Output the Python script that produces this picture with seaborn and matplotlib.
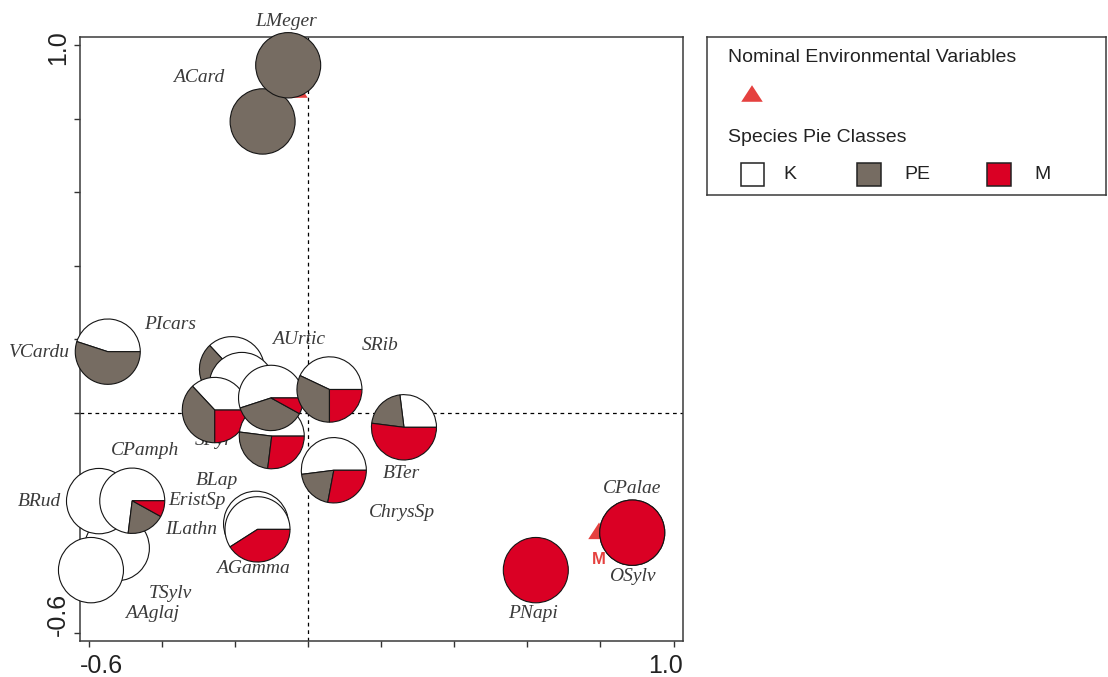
import matplotlib
matplotlib.use("Agg")
import matplotlib.pyplot as plt
from matplotlib.patches import Wedge, Rectangle
import pandas as pd
import seaborn as sns

# species scores on ordination axes 1/2 and share of each pie class (K, PE, M)
species = ["TSylv", "AAglaj", "BRud", "CPamph", "ILathn", "AGamma", "PIcars",
           "BLap", "SPyr", "EristSp", "AUrtic", "SRib", "BTer", "ChrysSp",
           "VCardu", "ACard", "LMeger", "PNapi", "CPalae", "OSylv"]
axis1 = [-0.524, -0.595, -0.573, -0.482, -0.143, -0.139, -0.209, -0.182, -0.256,
         -0.100, -0.102, 0.058, 0.262, 0.070, -0.549, -0.125, -0.055, 0.623,
         0.887, 0.887]
axis2 = [-0.369, -0.429, -0.241, -0.240, -0.303, -0.318, 0.118, 0.075, 0.007,
         -0.064, 0.040, 0.063, -0.040, -0.157, 0.166, 0.793, 0.946, -0.429,
         -0.327, -0.327]
share_k = [1, 1, 1, 0.73, 1, 0.59, 0.37, 1, 0.37, 0.48, 0.55, 0.43, 0.27, 0.52,
           0.45, 0, 0, 0, 0, 0]
share_pe = [0, 0, 0, 0.19, 0, 0, 0.38, 0, 0.38, 0.25, 0.37, 0.32, 0.21, 0.20,
            0.55, 1, 1, 0, 0, 0]
share_m = [0, 0, 0, 0.08, 0, 0.41, 0.25, 0, 0.25, 0.27, 0.08, 0.25, 0.52, 0.28,
           0, 0, 0, 1, 1, 1]

# where the species names sit
label_x = [-0.379, -0.429, -0.735, -0.446, -0.320, -0.151, -0.379, -0.251, -0.260,
           -0.306, -0.027, 0.196, 0.256, 0.256, -0.735, -0.299, -0.061, 0.616,
           0.886, 0.886]
label_y = [-0.492, -0.546, -0.241, -0.104, -0.318, -0.424, 0.241, -0.184, -0.075,
           -0.238, 0.199, 0.184, -0.167, -0.273, 0.165, 0.912, 1.066, -0.546,
           -0.206, -0.447]

# nominal environmental variables (centroids)
env_names = ["M", ""]
env_x = [0.796, -0.031]
env_y = [-0.322, 0.880]

classes = ["K", "PE", "M"]
class_colors = ["#FFFFFF", "#766C62", "#DA0024"]
tri_color = "#E5413F"
tri_marker = [(-1, -0.77), (1, -0.77), (0, 0.77)]

sns.set_style("white")
plt.rcParams["font.family"] = ["Liberation Sans", "DejaVu Sans"]

fig = plt.figure(figsize=(11.08, 6.77), dpi=100)
W, H = 1108, 677
ax = fig.add_axes([80 / W, (H - 641) / H, 603 / W, 604 / H])
ax.set_xlim(-0.625, 1.026)
ax.set_ylim(-0.622, 1.023)

ax.axhline(0, color="black", lw=0.9, ls=(0, (3, 3)), zorder=1)
ax.axvline(0, color="black", lw=0.9, ls=(0, (3, 3)), zorder=1)

env_df = pd.DataFrame({"name": env_names, "x": env_x, "y": env_y})
sns.scatterplot(data=env_df, x="x", y="y", marker=tri_marker, s=240,
                color=tri_color, edgecolor="none", legend=False, ax=ax, zorder=2)
for _, row in env_df.iterrows():
    if row["name"]:
        ax.text(row["x"], row["y"] - 0.077, row["name"], color=tri_color,
                fontsize=12, fontweight="bold", ha="center", va="center", zorder=2)

for name, lx, ly in zip(species, label_x, label_y):
    ax.text(lx, ly, name, family="Liberation Serif", style="italic", fontsize=14,
            color="#3a3a3a", ha="center", va="center", zorder=2)

radius = 0.089
z = 3
for x, y, k, pe, m in zip(axis1, axis2, share_k, share_pe, share_m):
    shares = [k, pe, m]
    total = sum(shares)
    start = 0.0
    for share, col in zip(shares, class_colors):
        if share <= 0:
            continue
        ang = 360.0 * share / total
        end = 360.0 if share == total else start + ang
        ax.add_patch(Wedge((x, y), radius, start, end, facecolor=col,
                           edgecolor="#151515", lw=0.8, zorder=z, clip_on=False))
        start += ang
    z += 0.01

ax.set_xticks([-0.6, -0.4, -0.2, 0.0, 0.2, 0.4, 0.6, 0.8, 1.0])
ax.set_yticks([-0.6, -0.4, -0.2, 0.0, 0.2, 0.4, 0.6, 0.8, 1.0])
ax.set_xticklabels([])
ax.set_yticklabels([])
ax.tick_params(bottom=True, left=True, top=False, right=False, direction="out",
               length=4, width=1, color="#333333")
ax.set_xlabel("")
ax.set_ylabel("")
for sp in ax.spines.values():
    sp.set_visible(True)
    sp.set_color("#3a3a3a")
    sp.set_linewidth(1.1)
    sp.set_zorder(2.5)

tick_kw = dict(fontsize=18, color="#222222", transform=ax.transAxes)
ax.text(0.0, -0.053, "-0.6", ha="left", va="baseline", **tick_kw)
ax.text(1.0, -0.053, "1.0", ha="right", va="baseline", **tick_kw)
ax.text(-0.0249, 0.008, "-0.6", rotation=90, rotation_mode="anchor",
        ha="left", va="baseline", **tick_kw)
ax.text(-0.0249, 1.0116, "1.0", rotation=90, rotation_mode="anchor",
        ha="right", va="baseline", **tick_kw)

# legend panel, in pixel coordinates
lax = fig.add_axes([707 / W, (H - 195) / H, 399 / W, 158.3 / H])
lax.set_xlim(707, 1106)
lax.set_ylim(195, 36.7)
lax.set_xticks([])
lax.set_yticks([])
for sp in lax.spines.values():
    sp.set_visible(True)
    sp.set_color("#3a3a3a")
    sp.set_linewidth(1.1)

lax.text(727.7, 57.5, "Nominal Environmental Variables", fontsize=14,
         color="#222222", ha="left", va="center")
lax.scatter([752], [93.5], marker=tri_marker, s=240, color=tri_color, edgecolor="none")
lax.text(727.7, 137.5, "Species Pie Classes", fontsize=14, color="#222222",
         ha="left", va="center")
for cls, col, sx, tx in zip(classes, class_colors, [740.7, 857.3, 987.3],
                            [783.3, 904, 1034]):
    lax.add_patch(Rectangle((sx, 162.7), 23.3, 23.3, facecolor=col,
                            edgecolor="#222222", lw=1.1))
    lax.text(tx, 174.5, cls, fontsize=14, color="#222222", ha="left", va="center")

fig.savefig("out.png", dpi=100)
